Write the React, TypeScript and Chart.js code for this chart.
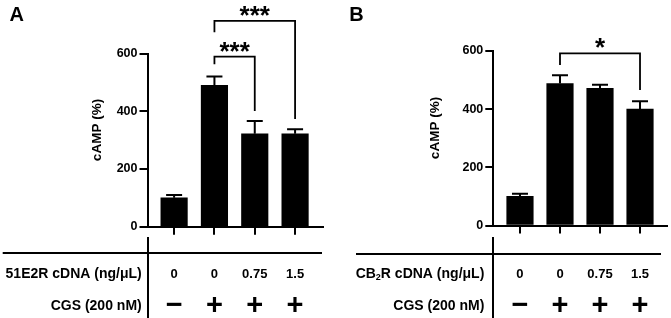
import React, { useEffect, useRef } from 'react';
import { Chart, registerables } from 'chart.js';

Chart.register(...registerables);

// ---- data ----
const groups = [0, 1, 2, 3];
const doseLabels = ['0', '0', '0.75', '1.5'];
const cgsLabels = ['\u2212', '+', '+', '+'];
const yTickValues = [0, 200, 400, 600];

const meanA = [100, 490, 322, 322];
const errA = [10, 30, 44, 16];
const meanB = [100, 488, 472, 400];
const errB = [9, 29, 12, 27];

// significance brackets (group indices, heights in cAMP %)
const bracketFromA = [1, 1];
const bracketToA = [2, 3];
const bracketTopA = [589, 713];
const bracketLeftEndA = [563, 674];
const bracketRightEndA = [401, 373];
const bracketLabelA = ['***', '***'];

const bracketFromB = [1];
const bracketToB = [3];
const bracketTopB = [592];
const bracketLeftEndB = [552];
const bracketRightEndB = [466];
const bracketLabelB = ['*'];

const rowLabelA: [string, boolean][] = [['51E2R cDNA (ng/\u03bcL)', false]];
const rowLabelB: [string, boolean][] = [['CB', false], ['2', true], ['R cDNA (ng/\u03bcL)', false]];
const cgsRowLabel = 'CGS (200 nM)';
const yTitle = 'cAMP (%)';

const FONT = '"Liberation Sans", Arial, Helvetica, sans-serif';

type Spec = {
  letter: string;
  width: number;
  height: number;
  means: number[];
  errs: number[];
  bFrom: number[];
  bTo: number[];
  bTop: number[];
  bLeftEnd: number[];
  bRightEnd: number[];
  bLabel: string[];
  rowLabel: [string, boolean][];
  areaLeft: number;
  areaRight: number;
  areaTop: number;
  areaBottom: number;
  xMin: number;
  xMax: number;
  letterX: number;
  titleX: number;
  titleY: number;
  lineX0: number;
  lineX1: number;
  lineY: number;
  labelRight: number;
};

function makePlugin(spec: Spec) {
  return {
    id: 'annot' + spec.letter,
    afterDatasetsDraw(chart: any) {
      const ctx: CanvasRenderingContext2D = chart.ctx;
      const xs = chart.scales.x;
      const ys = chart.scales.y;
      ctx.save();
      ctx.strokeStyle = '#000';
      ctx.fillStyle = '#000';
      // error bars
      ctx.lineWidth = 2;
      groups.forEach((g, i) => {
        const px = xs.getPixelForValue(g);
        const base = ys.getPixelForValue(spec.means[i]);
        const top = ys.getPixelForValue(spec.means[i] + spec.errs[i]);
        ctx.beginPath();
        ctx.moveTo(px, base);
        ctx.lineTo(px, top);
        ctx.moveTo(px - 8, top);
        ctx.lineTo(px + 8, top);
        ctx.stroke();
      });
      ctx.restore();
    },
    afterDraw(chart: any) {
      const ctx: CanvasRenderingContext2D = chart.ctx;
      const xs = chart.scales.x;
      const ys = chart.scales.y;
      const area = chart.chartArea;
      ctx.save();
      ctx.strokeStyle = '#000';
      ctx.fillStyle = '#000';
      // brackets
      ctx.lineWidth = 1.8;
      ctx.lineJoin = 'miter';
      spec.bFrom.forEach((f, i) => {
        const x1 = xs.getPixelForValue(f);
        const x2 = xs.getPixelForValue(spec.bTo[i]);
        const yt = ys.getPixelForValue(spec.bTop[i]);
        const yl = ys.getPixelForValue(spec.bLeftEnd[i]);
        const yr = ys.getPixelForValue(spec.bRightEnd[i]);
        ctx.beginPath();
        ctx.moveTo(x1, yl);
        ctx.lineTo(x1, yt);
        ctx.lineTo(x2, yt);
        ctx.lineTo(x2, yr);
        ctx.stroke();
        ctx.font = 'bold 26px ' + FONT;
        ctx.textAlign = 'center';
        ctx.textBaseline = 'alphabetic';
        ctx.fillText(spec.bLabel[i], (x1 + x2) / 2, yt + 3);
      });
      // panel letter
      ctx.font = 'bold 20px ' + FONT;
      ctx.textAlign = 'left';
      ctx.textBaseline = 'alphabetic';
      ctx.fillText(spec.letter, spec.letterX, 20.7);
      // y title
      ctx.save();
      ctx.translate(spec.titleX, spec.titleY);
      ctx.rotate(-Math.PI / 2);
      ctx.font = 'bold 13.5px ' + FONT;
      ctx.textAlign = 'center';
      ctx.textBaseline = 'middle';
      ctx.fillText(yTitle, 0, 0);
      ctx.restore();
      // table lines
      ctx.lineWidth = 2;
      ctx.beginPath();
      ctx.moveTo(spec.lineX0, spec.lineY);
      ctx.lineTo(spec.lineX1, spec.lineY);
      const sx = Math.round(area.left);
      ctx.moveTo(sx, 237);
      ctx.lineTo(sx, spec.height);
      ctx.stroke();
      // row 1 label
      const row1 = 274;
      const row2 = 306;
      const big = 'bold 14px ' + FONT;
      const small = 'bold 9px ' + FONT;
      let total = 0;
      spec.rowLabel.forEach(([t, sub]) => {
        ctx.font = sub ? small : big;
        total += ctx.measureText(t).width;
      });
      let cx = spec.labelRight - total;
      ctx.textAlign = 'left';
      ctx.textBaseline = 'middle';
      spec.rowLabel.forEach(([t, sub]) => {
        ctx.font = sub ? small : big;
        ctx.fillText(t, cx, sub ? row1 + 4 : row1);
        cx += ctx.measureText(t).width;
      });
      ctx.font = big;
      ctx.textAlign = 'right';
      ctx.fillText(cgsRowLabel, spec.labelRight, row2);
      // row values
      ctx.textAlign = 'center';
      groups.forEach((g, i) => {
        const px = xs.getPixelForValue(g);
        ctx.font = 'bold 13px ' + FONT;
        ctx.fillText(doseLabels[i], px, row1);
        ctx.font = 'bold 29px ' + FONT;
        ctx.fillText(cgsLabels[i], px, row2);
      });
      ctx.restore();
    },
  };
}

function Panel({ spec }: { spec: Spec }) {
  const ref = useRef<HTMLCanvasElement | null>(null);
  useEffect(() => {
    const canvas = ref.current;
    if (!canvas) return;
    const chart = new Chart(canvas, {
      type: 'bar',
      data: {
        datasets: [
          {
            data: groups.map((g, i) => ({ x: g, y: spec.means[i] })),
            backgroundColor: '#000',
            borderWidth: 0,
            barThickness: 26.5,
          },
        ],
      },
      options: {
        responsive: false,
        animation: false,
        devicePixelRatio: 1,
        layout: {
          padding: {
            left: 0,
            top: spec.areaTop,
            right: spec.width - spec.areaRight,
            bottom: 0,
          },
        },
        plugins: {
          legend: { display: false },
          tooltip: { enabled: false },
        },
        scales: {
          x: {
            type: 'linear',
            min: spec.xMin,
            max: spec.xMax,
            offset: false,
            afterBuildTicks: (axis: any) => {
              axis.ticks = groups.map((v) => ({ value: v }));
            },
            afterFit: (axis: any) => {
              axis.height = spec.height - spec.areaBottom;
            },
            ticks: { display: false },
            grid: {
              offset: false,
              drawOnChartArea: false,
              drawTicks: true,
              tickLength: 8,
              color: '#000',
              lineWidth: 2,
            },
            border: { display: true, color: '#000', width: 2 },
          },
          y: {
            type: 'linear',
            min: 0,
            max: 600,
            afterBuildTicks: (axis: any) => {
              axis.ticks = yTickValues.map((v) => ({ value: v }));
            },
            afterFit: (axis: any) => {
              axis.width = spec.areaLeft;
            },
            ticks: {
              color: '#000',
              padding: 2,
              font: { family: FONT, size: 12.5, weight: 'bold' },
            },
            grid: {
              drawOnChartArea: false,
              drawTicks: true,
              tickLength: 8,
              color: '#000',
              lineWidth: 2,
            },
            border: { display: true, color: '#000', width: 2 },
          },
        },
      },
      plugins: [makePlugin(spec)],
    } as any);
    return () => chart.destroy();
  }, [spec]);
  return (
    <canvas
      ref={ref}
      width={spec.width}
      height={spec.height}
      style={{ width: spec.width, height: spec.height, display: 'block' }}
    />
  );
}

const specA: Spec = {
  letter: 'A',
  width: 336,
  height: 318,
  means: meanA,
  errs: errA,
  bFrom: bracketFromA,
  bTo: bracketToA,
  bTop: bracketTopA,
  bLeftEnd: bracketLeftEndA,
  bRightEnd: bracketRightEndA,
  bLabel: bracketLabelA,
  rowLabel: rowLabelA,
  areaLeft: 147.5,
  areaRight: 322.5,
  areaTop: 53.5,
  areaBottom: 226.7,
  xMin: -0.66,
  xMax: 3.68,
  letterX: 9.5,
  titleX: 97.5,
  titleY: 130,
  lineX0: 2.7,
  lineX1: 322,
  lineY: 253,
  labelRight: 141.7,
};

const specB: Spec = {
  letter: 'B',
  width: 335,
  height: 318,
  means: meanB,
  errs: errB,
  bFrom: bracketFromB,
  bTo: bracketToB,
  bTop: bracketTopB,
  bLeftEnd: bracketLeftEndB,
  bRightEnd: bracketRightEndB,
  bLabel: bracketLabelB,
  rowLabel: rowLabelB,
  areaLeft: 157.3,
  areaRight: 330.7,
  areaTop: 51,
  areaBottom: 225.5,
  xMin: -0.667,
  xMax: 3.667,
  letterX: 13.3,
  titleX: 99.5,
  titleY: 128,
  lineX0: 20,
  lineX1: 325,
  lineY: 254,
  labelRight: 148.3,
};

export default function App() {
  return (
    <div
      style={{
        position: 'fixed',
        left: 0,
        top: 0,
        width: 671,
        height: 318,
        display: 'flex',
        background: '#fff',
      }}
    >
      <Panel spec={specA} />
      <Panel spec={specB} />
    </div>
  );
}
